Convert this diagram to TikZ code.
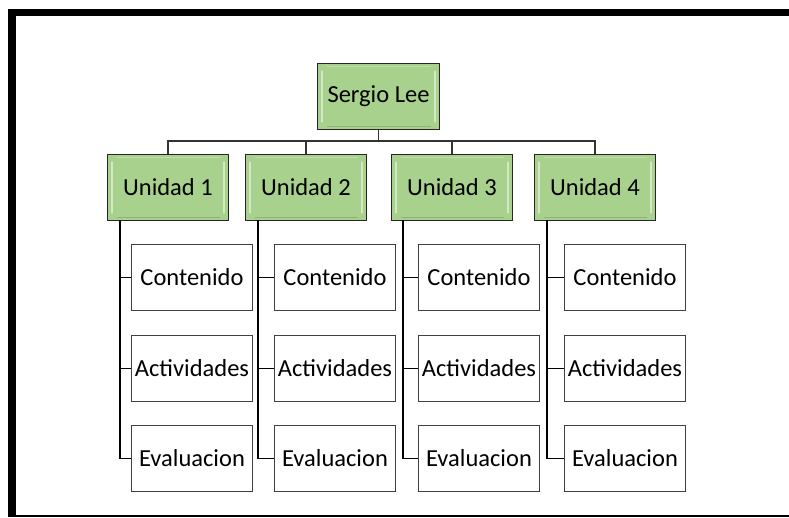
\documentclass[tikz,border=0pt]{standalone}
\usepackage{fontspec}
\setmainfont{Carlito}
\definecolor{unitgreen}{HTML}{A9D18E}
\definecolor{unithl}{HTML}{E2F0D9}
\definecolor{boxline}{HTML}{404040}
\tikzset{
  unitbox/.style={draw=black!85, line width=1pt, fill=unitgreen, minimum width=121pt, minimum height=66pt,
    inner sep=0pt, anchor=north west, font=\fontsize{24.5}{29}\selectfont,
    path picture={
      \draw[unithl!75!unitgreen, line width=2.5pt, line cap=round] ([xshift=4.5pt,yshift=-8pt]path picture bounding box.north west) -- ([xshift=4.5pt,yshift=8pt]path picture bounding box.south west);
      \draw[unithl!75!unitgreen, line width=2.5pt, line cap=round] ([xshift=-4.5pt,yshift=-8pt]path picture bounding box.north east) -- ([xshift=-4.5pt,yshift=8pt]path picture bounding box.south east);
      \draw[unithl!40!unitgreen, line width=1pt] ([xshift=9pt,yshift=-3pt]path picture bounding box.north west) -- ([xshift=-9pt,yshift=-3pt]path picture bounding box.north east);
      \draw[unitgreen!85!black, line width=1pt] ([xshift=9pt,yshift=3pt]path picture bounding box.south west) -- ([xshift=-9pt,yshift=3pt]path picture bounding box.south east);
    }},
  subbox/.style={draw=boxline, line width=1pt, fill=white, minimum width=121pt, minimum height=66pt,
    inner sep=0pt, anchor=north west, font=\fontsize{24.5}{29}\selectfont},
  treeline/.style={draw=black!80, line width=1.3pt},
  subline/.style={draw=black, line width=1.5pt}
}
\begin{document}
\begin{tikzpicture}[x=1pt,y=-1pt]
\useasboundingbox (0,0) rectangle (789,518);
% frame
\fill[black] (8,9) rectangle (789,16);
\fill[black] (8,9) rectangle (16,517);
\fill[black] (8,514.8) rectangle (789,516.8);

\node[unitbox, minimum width=122pt] (root) at (317,63) {Sergio Lee};

\node[unitbox] (u1) at (107,154) {Unidad 1};
\node[unitbox] (u2) at (245,154) {Unidad 2};
\node[unitbox] (u3) at (391,154) {Unidad 3};
\node[unitbox] (u4) at (534,154) {Unidad 4};

\coordinate (bar) at (0,141);
\foreach \u in {u1,u2,u3,u4}{
  \draw[treeline] (root.south) -- (root.south |- bar) -| (\u.north);
}

% sub boxes
\foreach \u/\sx/\vx in {1/131/120, 2/274/258, 3/418/403, 4/564/547}{
  \node[subbox] (c\u) at (\sx,244) {Contenido};
  \node[subbox] (a\u) at (\sx,335) {Actividades};
  \node[subbox] (e\u) at (\sx,425) {Evaluacion};
  \coordinate (v\u) at (\vx,220);
  \draw[subline] (v\u) |- (e\u.west);
  \draw[subline] (v\u) |- (c\u.west);
  \draw[subline] (v\u) |- (a\u.west);
}
\end{tikzpicture}
\end{document}
